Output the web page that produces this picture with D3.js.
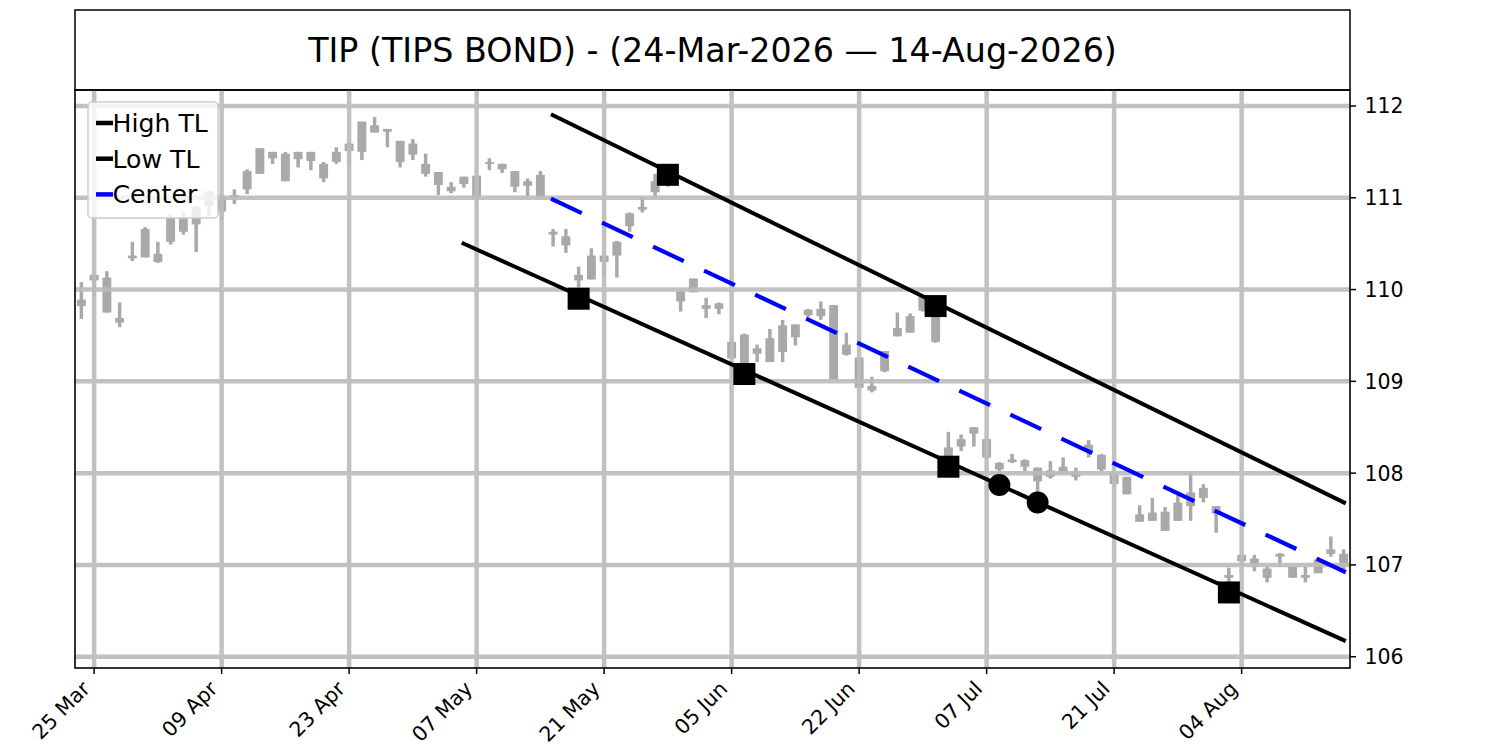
<!DOCTYPE html>
<html>
<head>
<meta charset="utf-8">
<script src="https://cdn.jsdelivr.net/npm/d3@7"></script>
<style>
  html, body { margin: 0; padding: 0; background: #ffffff; }
  svg { display: block; font-family: "DejaVu Sans", sans-serif; }
</style>
</head>
<body>
<svg id="chart" width="1500" height="750"></svg>
<script>
// ---------------- DATA ----------------
const title = "TIP (TIPS BOND) - (24-Mar-2026 \u2014 14-Aug-2026)";

// candle index (trading day 0 = 24-Mar-2026)
const opens = [109.89,110.16,110.13,109.69,110.34,110.35,110.30,110.52,110.63,110.71,
  110.91,110.85,110.99,111.09,111.26,111.50,111.48,111.50,111.50,111.37,
  111.39,111.51,111.50,111.79,111.75,111.62,111.59,111.37,111.28,111.12,
  111.23,111.24,111.39,111.37,111.29,111.18,111.25,110.63,110.58,110.16,
  110.11,110.30,110.37,110.69,110.87,111.06,111.14,109.98,109.97,109.83,
  109.85,109.43,109.51,109.36,109.21,109.32,109.48,109.72,109.71,109.83,
  109.40,109.26,108.95,109.11,109.49,109.53,109.77,109.80,108.28,108.29,
  108.43,108.37,108.11,108.12,108.14,108.06,107.96,108.07,107.96,108.23,
  108.20,108.01,107.96,107.55,107.48,107.37,107.48,107.64,107.84,107.64,
  106.89,107.11,107.07,106.96,107.12,106.98,106.89,106.91,107.12,107.12];
const closes = [109.82,110.10,109.75,109.64,110.37,110.66,110.39,110.79,110.79,110.90,
  111.07,111.01,111.03,111.29,111.54,111.43,111.18,111.42,111.40,111.21,
  111.50,111.59,111.83,111.71,111.72,111.39,111.47,111.26,111.14,111.07,
  111.15,111.01,111.37,111.31,111.12,111.13,111.00,110.60,110.48,110.10,
  110.37,110.37,110.52,110.83,110.90,111.18,111.22,109.87,110.12,109.79,
  109.79,109.25,109.19,109.30,109.47,109.61,109.62,109.78,109.79,109.02,
  109.29,108.93,108.90,109.33,109.58,109.71,109.92,109.43,108.15,108.37,
  108.50,108.17,108.04,108.15,108.07,107.91,108.03,107.99,108.02,108.31,
  108.04,107.88,107.77,107.47,107.57,107.58,107.68,107.79,107.73,107.56,
  106.86,107.04,106.98,106.86,107.09,106.86,106.86,107.06,107.17,106.98];
const highs = [110.08,110.17,110.20,109.86,110.52,110.68,110.52,110.82,110.84,110.91,
  111.07,111.04,111.09,111.31,111.54,111.50,111.50,111.50,111.50,111.39,
  111.55,111.61,111.83,111.88,111.75,111.62,111.64,111.48,111.28,111.17,
  111.23,111.24,111.43,111.37,111.29,111.21,111.29,110.66,110.66,110.25,
  110.45,110.39,110.53,110.84,111.01,111.26,111.28,109.99,110.12,109.91,
  109.86,109.47,109.52,109.40,109.57,109.67,109.62,109.79,109.87,109.83,
  109.53,109.26,109.05,109.33,109.75,109.74,109.93,109.85,108.45,108.42,
  108.50,108.37,108.12,108.21,108.15,108.06,108.13,108.17,108.06,108.36,
  108.21,108.02,107.96,107.65,107.73,107.63,107.80,108.01,107.88,107.64,
  106.97,107.11,107.11,106.98,107.13,106.99,106.98,107.08,107.31,107.17];
const lows = [109.68,109.93,109.75,109.59,110.31,110.35,110.29,110.49,110.60,110.41,
  110.80,110.75,110.93,111.04,111.26,111.37,111.18,111.33,111.30,111.17,
  111.37,111.35,111.41,111.71,111.55,111.33,111.41,111.23,111.03,111.05,
  111.11,110.96,111.30,111.27,111.06,111.02,111.00,110.47,110.40,109.90,
  110.11,110.15,110.13,110.63,110.84,110.99,111.12,109.76,109.97,109.69,
  109.73,109.24,109.08,109.21,109.21,109.21,109.39,109.70,109.67,109.02,
  109.28,108.93,108.88,109.10,109.49,109.53,109.76,109.42,108.07,108.24,
  108.29,108.15,107.87,108.11,107.99,107.68,107.94,107.99,107.92,108.17,
  108.02,107.85,107.77,107.47,107.48,107.37,107.48,107.48,107.68,107.35,
  106.70,106.98,106.93,106.81,106.98,106.86,106.81,106.91,107.09,106.92];

// x-axis ticks (trading-day index) and their labels
const tickIdx = [1, 11, 21, 31, 41, 51, 61, 71, 81, 91];
const tickLabels = ["25 Mar","09 Apr","23 Apr","07 May","21 May","05 Jun","22 Jun","07 Jul","21 Jul","04 Aug"];
const yTicks = [106, 107, 108, 109, 110, 111, 112];

// trend lines: [index, value] end points
const highTL = [[36.83, 111.91], [99.17, 107.67]];
const lowTL = [[29.83, 110.51], [99.17, 106.17]];
const centerTL = [[36.83, 110.99], [99.17, 106.92]];

// pivot markers
const highPivotIdx = [46, 67];
const highPivotVal = [111.25, 109.82];
const lowPivotIdx = [39, 52, 68, 90];
const lowPivotVal = [109.90, 109.08, 108.07, 106.70];
const touchIdx = [72, 75];
const touchVal = [107.87, 107.68];

const legendNames = ["High TL", "Low TL", "Center"];
const legendColors = ["#000000", "#000000", "#0000ff"];

// ---------------- LAYOUT ----------------
const svg = d3.select("#chart");
const L = 75, R = 1350, T = 90, B = 668;

const x = d3.scaleLinear().domain([-0.5, 99.5]).range([L, R]);
const y = d3.scaleLinear().domain([105.877, 112.174]).range([B, T]);

// title box
svg.append("rect").attr("x", L).attr("y", 10).attr("width", R - L).attr("height", T - 10)
  .attr("fill", "#fff").attr("stroke", "#000").attr("stroke-width", 1.5);
svg.append("text").attr("x", (L + R) / 2).attr("y", 62).attr("text-anchor", "middle")
  .attr("font-size", 33.3).attr("fill", "#000").text(title);

const clipId = "plotclip";
svg.append("clipPath").attr("id", clipId).append("rect")
  .attr("x", L).attr("y", T).attr("width", R - L).attr("height", B - T);

const plot = svg.append("g").attr("clip-path", `url(#${clipId})`);

// candles
const candles = d3.range(opens.length).map(i => ({
  i, o: opens[i], h: highs[i], l: lows[i], c: closes[i]
}));
const candleColor = "#a9a9a9";
const bw = 0.7 * (x(1) - x(0));
const cg = plot.append("g");
cg.selectAll("line.wick").data(candles).join("line").attr("class", "wick")
  .attr("x1", d => x(d.i)).attr("x2", d => x(d.i))
  .attr("y1", d => y(d.h)).attr("y2", d => y(d.l))
  .attr("stroke", candleColor).attr("stroke-width", 3.5);
cg.selectAll("rect.body").data(candles).join("rect").attr("class", "body")
  .attr("x", d => x(d.i) - bw / 2).attr("width", bw)
  .attr("y", d => y(Math.max(d.o, d.c)))
  .attr("height", d => Math.max(1.5, Math.abs(y(d.o) - y(d.c))))
  .attr("fill", candleColor);

// grid (drawn over candles)
const gridColor = "#bcbcbc";
const gg = plot.append("g").attr("opacity", 0.92);
gg.selectAll("line.vg").data(tickIdx).join("line").attr("class", "vg")
  .attr("x1", d => x(d)).attr("x2", d => x(d)).attr("y1", T).attr("y2", B)
  .attr("stroke", gridColor).attr("stroke-width", 4.5);
gg.selectAll("line.hg").data(yTicks).join("line").attr("class", "hg")
  .attr("y1", d => y(d)).attr("y2", d => y(d)).attr("x1", L).attr("x2", R)
  .attr("stroke", gridColor).attr("stroke-width", 4.5);

// trend lines
const lineGen = d3.line().x(d => x(d[0])).y(d => y(d[1]));
plot.append("path").attr("d", lineGen(highTL)).attr("fill", "none")
  .attr("stroke", "#000").attr("stroke-width", 4);
plot.append("path").attr("d", lineGen(lowTL)).attr("fill", "none")
  .attr("stroke", "#000").attr("stroke-width", 4);
plot.append("path").attr("d", lineGen(centerTL)).attr("fill", "none")
  .attr("stroke", "#0000ff").attr("stroke-width", 4.2).attr("stroke-dasharray", "34 22.4");

// markers
const ms = 22;
const sq = highPivotIdx.map((d, k) => [d, highPivotVal[k]])
  .concat(lowPivotIdx.map((d, k) => [d, lowPivotVal[k]]));
plot.selectAll("rect.sq").data(sq).join("rect").attr("class", "sq")
  .attr("x", d => x(d[0]) - ms / 2).attr("y", d => y(d[1]) - ms / 2)
  .attr("width", ms).attr("height", ms).attr("fill", "#000");
const circ = touchIdx.map((d, k) => [d, touchVal[k]]);
plot.selectAll("circle.tc").data(circ).join("circle").attr("class", "tc")
  .attr("cx", d => x(d[0])).attr("cy", d => y(d[1])).attr("r", 11).attr("fill", "#000");

// frame
svg.append("rect").attr("x", L).attr("y", T).attr("width", R - L).attr("height", B - T)
  .attr("fill", "none").attr("stroke", "#000").attr("stroke-width", 1.6);

// y axis (right)
const yAxis = svg.append("g");
yAxis.selectAll("line").data(yTicks).join("line")
  .attr("x1", R).attr("x2", R + 6).attr("y1", d => y(d)).attr("y2", d => y(d))
  .attr("stroke", "#000").attr("stroke-width", 1.5);
yAxis.selectAll("text").data(yTicks).join("text")
  .attr("x", R + 14.5).attr("y", d => y(d) + 7.5)
  .attr("font-size", 20.5).attr("fill", "#000").text(d => d3.format("d")(d));

// x axis (bottom)
const xAxis = svg.append("g");
xAxis.selectAll("line").data(tickIdx).join("line")
  .attr("x1", d => x(d)).attr("x2", d => x(d)).attr("y1", B).attr("y2", B + 6)
  .attr("stroke", "#000").attr("stroke-width", 1.5);
xAxis.selectAll("text").data(tickIdx).join("text")
  .attr("transform", d => `translate(${x(d) - 3},${B + 22}) rotate(-45)`)
  .attr("text-anchor", "end").attr("font-size", 20.5).attr("fill", "#000")
  .text((d, k) => tickLabels[k]);

// legend
const lg = svg.append("g");
lg.append("rect").attr("x", 88).attr("y", 102).attr("width", 130).attr("height", 116)
  .attr("rx", 4).attr("fill", "#fff").attr("fill-opacity", 0.8)
  .attr("stroke", "#cccccc").attr("stroke-width", 1.5);
legendNames.forEach((n, k) => {
  const cy = 123 + k * 35.7;
  lg.append("line").attr("x1", 96).attr("x2", 113).attr("y1", cy).attr("y2", cy)
    .attr("stroke", legendColors[k]).attr("stroke-width", 4.5);
  lg.append("text").attr("x", 112.5).attr("y", cy + 9).attr("font-size", 25.2)
    .attr("fill", "#000").text(n);
});
</script>
</body>
</html>
